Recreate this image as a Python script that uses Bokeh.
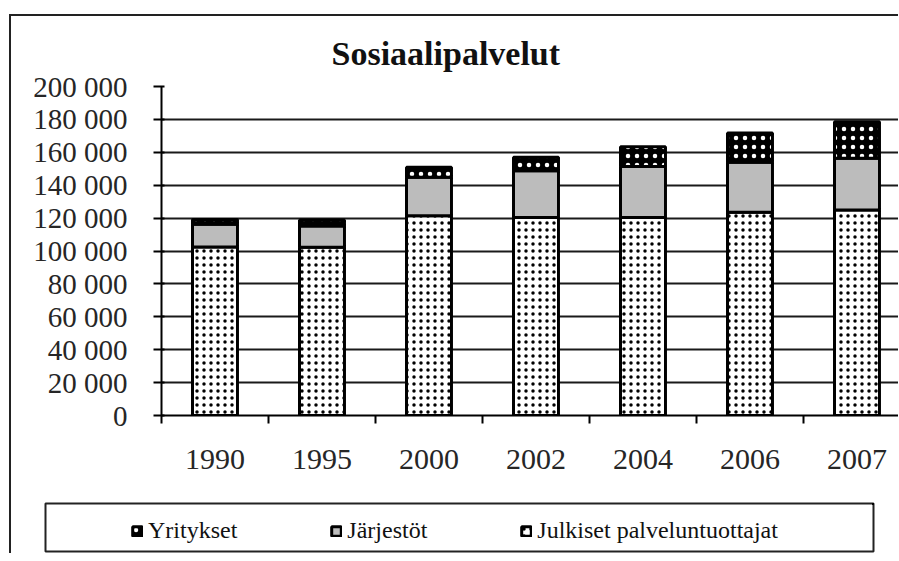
from bokeh.plotting import figure
from bokeh.layouts import column
from bokeh.models import ColumnDataSource, FixedTicker, Legend, LegendItem, Range1d
from bokeh.embed import file_html
from bokeh.resources import INLINE

years = ["1990", "1995", "2000", "2002", "2004", "2006", "2007"]
julkiset = [102500, 102300, 121500, 120300, 120400, 123500, 124900]
jarjestot = [13800, 12900, 23300, 28500, 31000, 30500, 31500]
yritykset = [2900, 3600, 6100, 8200, 11900, 17800, 22100]
y_ticks = [0, 20000, 40000, 60000, 80000, 100000, 120000, 140000, 160000, 180000, 200000]
series = ["julkiset", "jarjestot", "yritykset"]

xpos = list(range(len(years)))
source = ColumnDataSource(dict(x=xpos, julkiset=julkiset, jarjestot=jarjestot, yritykset=yritykset))

bar_style = dict(fill_color=["white", "#bcbcbc", "black"],
                 hatch_pattern=["dot", " ", "dot"],
                 hatch_color=["black", "black", "white"],
                 hatch_scale=[7, 7, 9], hatch_weight=[1.2, 1, 1.0],
                 line_color="black", line_width=3)

W = 887
p = figure(width=W, height=484, output_backend="svg", toolbar_location=None,
           x_range=Range1d(-0.5, -0.5 + (W - 150) / 107), y_range=Range1d(0, 200000),
           min_border_left=150, min_border_right=0, min_border_top=70, min_border_bottom=85,
           title="Sosiaalipalvelut")
p.outline_line_color = None
p.frame_align = False

p.title.text_font = "Liberation Serif"
p.title.text_font_size = "34px"
p.title.text_font_style = "bold"
p.title.text_color = "#111111"
p.title.align = "left"
p.title.offset = 170
p.title.standoff = 30

p.vbar_stack(series, x="x", width=0.42, source=source, **bar_style)

# y axis
p.yaxis.ticker = FixedTicker(ticks=y_ticks)
p.yaxis.major_label_overrides = {t: f"{t:,}".replace(",", " ") for t in y_ticks}
p.yaxis.major_label_text_font = "Liberation Serif"
p.yaxis.major_label_text_font_size = "29px"
p.yaxis.major_label_text_color = "#262626"
p.yaxis.axis_line_color = "black"
p.yaxis.axis_line_width = 2
p.yaxis.major_tick_line_color = "black"
p.yaxis.major_tick_line_width = 2
p.yaxis.major_tick_in = 3
p.yaxis.major_tick_out = 8
p.yaxis.minor_tick_line_color = None
p.yaxis.major_label_standoff = 26

# x axis
p.xaxis.ticker = FixedTicker(ticks=xpos, minor_ticks=[i - 0.5 for i in range(len(years) + 1)])
p.xaxis.major_label_overrides = {i: y for i, y in enumerate(years)}
p.xaxis.major_label_text_font = "Liberation Serif"
p.xaxis.major_label_text_font_size = "30px"
p.xaxis.major_label_text_color = "#262626"
p.xaxis.axis_line_color = "black"
p.xaxis.axis_line_width = 2
p.xaxis.major_tick_line_color = None
p.xaxis.major_tick_in = 0
p.xaxis.major_tick_out = 8
p.xaxis.minor_tick_line_color = "black"
p.xaxis.minor_tick_line_width = 2
p.xaxis.minor_tick_in = 0
p.xaxis.minor_tick_out = 8
p.xaxis.major_label_standoff = 26

p.xgrid.visible = False
p.ygrid.ticker = FixedTicker(ticks=y_ticks)
p.ygrid.grid_line_color = "#1a1a1a"
p.ygrid.grid_line_width = 2

# legend panel: its frame outline is the legend box; bars here fall outside its ranges
leg = figure(width=W, height=53, output_backend="svg", toolbar_location=None,
             x_range=Range1d(-3, -2), y_range=Range1d(-3, -2),
             x_axis_location=None, y_axis_location=None,
             min_border_left=34, min_border_right=W - 862, min_border_top=3, min_border_bottom=2)
leg.frame_align = False
leg.grid.visible = False
leg.outline_line_color = "#222222"
leg.outline_line_width = 2
lr = leg.vbar_stack(series, x="x", width=0.42, source=source, **bar_style)
r_jul, r_jar, r_yri = lr
legend = Legend(items=[LegendItem(label="Yritykset", renderers=[r_yri]),
                       LegendItem(label="Järjestöt", renderers=[r_jar]),
                       LegendItem(label="Julkiset palveluntuottajat", renderers=[r_jul])],
                orientation="horizontal", location=(86, 7),
                border_line_color=None, background_fill_alpha=0,
                padding=0, margin=0, spacing=93,
                glyph_width=12, glyph_height=12, label_standoff=5)
legend.label_text_font = "Liberation Serif"
legend.label_text_font_size = "24px"
legend.label_text_color = "#111111"
leg.add_layout(legend, "center")

layout = column(p, leg, spacing=0,
                styles={"border-left": "2px solid #222222", "border-top": "2px solid #222222",
                        "margin-left": "9px", "margin-top": "14px"})

open("out.html", "w").write(file_html(layout, INLINE))
